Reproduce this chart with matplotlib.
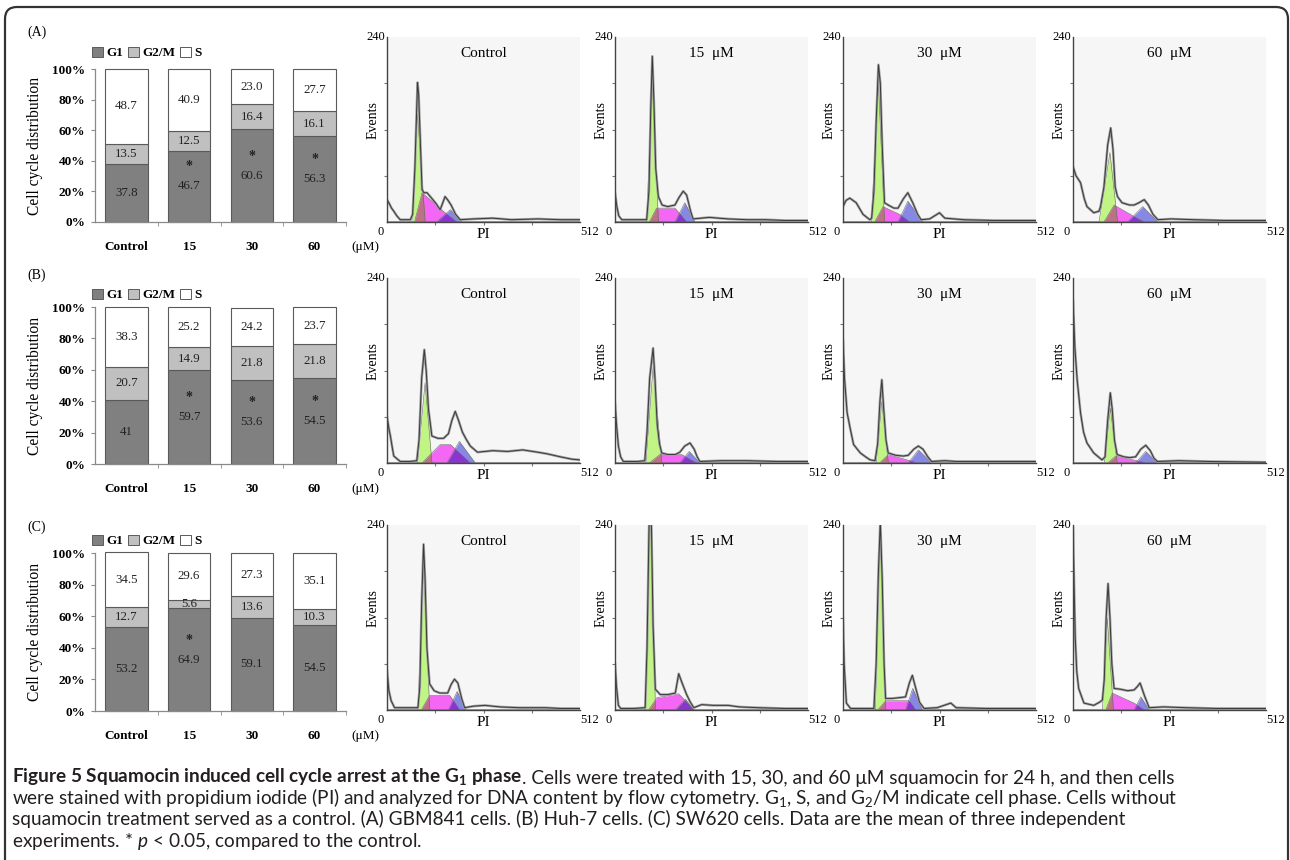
import numpy as np
import matplotlib
matplotlib.use("Agg")
import matplotlib.pyplot as plt
from matplotlib.patches import Patch, FancyBboxPatch
from matplotlib.transforms import IdentityTransform

plt.rcParams['font.family'] = ['Liberation Serif', 'DejaVu Serif']
plt.rcParams['mathtext.fontset'] = 'custom'
plt.rcParams['mathtext.rm'] = 'Lato'
plt.rcParams['mathtext.it'] = 'Lato:italic'
plt.rcParams['mathtext.bf'] = 'Lato:bold'

W, H = 1290, 860

# ---- bar chart data (% of cells) ----
doses = ["Control", "15", "30", "60"]
g1_A = [37.8, 46.7, 60.6, 56.3]
g2m_A = [13.5, 12.5, 16.4, 16.1]
s_A = [48.7, 40.9, 23.0, 27.7]
sig_A = [False, True, True, True]

g1_B = [41, 59.7, 53.6, 54.5]
g2m_B = [20.7, 14.9, 21.8, 21.8]
s_B = [38.3, 25.2, 24.2, 23.7]
sig_B = [False, True, True, True]

g1_C = [53.2, 64.9, 59.1, 54.5]
g2m_C = [12.7, 5.6, 13.6, 10.3]
s_C = [34.5, 29.6, 27.3, 35.1]
sig_C = [False, True, False, False]

# ---- flow cytometry histograms: (PI channel, events) ----
hist_titles = ["Control", "15  \u03bcM", "30  \u03bcM", "60  \u03bcM"]

trace_A = [
    [(0,29),(6,24),(12,18),(18,14),(26,8),(35,3),(50,3),(62,3),(68,10),(74,70),(79,150),(81,181),(84,165),(88,110),(93,42),(98,38),(106,38),(120,30),(130,24),(141,16),(148,25),(154,33),(162,28),(170,22),(182,10),(194,3),(230,4),(280,5),(330,3),(400,4),(460,3),(512,3)],
    [(0,38),(5,20),(10,8),(18,3),(50,3),(84,3),(90,40),(95,150),(99,215),(103,160),(108,70),(115,33),(125,22),(140,20),(159,22),(170,32),(181,40),(190,35),(200,15),(207,4),(250,6),(300,4),(350,3),(400,3),(450,2),(512,2)],
    [(0,20),(8,28),(18,31),(35,25),(53,10),(71,3),(76,5),(82,40),(88,130),(94,204),(99,180),(104,100),(110,25),(120,22),(135,18),(146,18),(160,30),(172,38),(185,25),(198,10),(207,3),(230,4),(256,12),(270,5),(320,3),(400,2),(512,2)],
    [(0,72),(8,60),(20,51),(30,30),(37,20),(55,12),(69,14),(73,20),(82,45),(92,100),(100,122),(106,95),(112,45),(118,33),(130,25),(150,22),(162,22),(175,25),(189,29),(200,22),(212,10),(225,3),(260,4),(320,3),(400,2),(512,2)],
]
trace_B = [
    [(0,60),(5,45),(9,35),(14,20),(18,9),(35,2),(60,2),(79,3),(85,30),(92,110),(99,147),(104,120),(110,70),(119,35),(135,32),(150,32),(163,38),(172,55),(181,67),(190,55),(200,40),(211,30),(221,22),(240,14),(280,16),(320,15),(360,17),(400,14),(424,12),(460,8),(490,5),(512,4)],
    [(0,78),(4,50),(9,22),(15,8),(22,2),(60,2),(79,3),(85,40),(92,110),(101,149),(106,110),(112,50),(118,25),(124,13),(140,11),(160,11),(172,14),(185,22),(199,26),(210,18),(218,8),(225,2),(280,3),(350,3),(430,2),(512,2)],
    [(0,160),(4,110),(11,65),(19,45),(28,24),(46,13),(60,8),(72,4),(85,3),(92,25),(98,80),(103,108),(108,70),(114,30),(120,13),(140,10),(160,9),(173,10),(188,18),(200,22),(212,18),(225,8),(235,2),(270,3),(300,2),(380,2),(512,2)],
    [(0,211),(5,150),(11,108),(20,65),(28,40),(37,26),(55,13),(77,4),(85,8),(92,55),(99,91),(104,70),(110,30),(117,11),(135,8),(150,7),(166,8),(180,18),(193,23),(205,16),(215,6),(224,2),(280,3),(360,2),(512,1)],
]
trace_C = [
    [(0,51),(5,25),(11,12),(20,3),(50,3),(82,3),(87,30),(92,140),(97,215),(101,170),(106,80),(113,34),(125,25),(140,22),(161,22),(170,33),(179,40),(188,35),(198,15),(206,3),(230,5),(260,6),(300,4),(350,3),(420,3),(460,2),(512,2)],
    [(0,60),(4,30),(9,6),(15,2),(50,2),(80,3),(85,80),(90,230),(93.5,300),(97,230),(101,110),(107,27),(120,20),(140,20),(160,22),(169,47),(178,35),(190,20),(200,10),(209,3),(230,7),(260,6),(300,6),(330,4),(380,3),(450,2),(512,2)],
    [(0,119),(3,60),(9,9),(20,2),(50,2),(82,2),(88,60),(94,180),(99,245),(104,170),(109,60),(113,15),(130,15),(150,16),(166,17),(176,35),(184,45),(192,30),(203,10),(215,2),(250,3),(286,9),(300,3),(380,2),(512,2)],
    [(0,236),(3,160),(6,93),(10,50),(15,28),(29,9),(55,6),(70,10),(78,13),(83,40),(88,120),(93,164),(98,120),(103,60),(109,28),(125,27),(145,25),(162,26),(170,30),(178,35),(190,18),(202,3),(240,4),(300,3),(380,2),(512,2)],
]

# fitted components: G1 / G2 = (start, peak PI, peak events, end); S = (start, x1, y1, x2, y2, end)
fit_g1_A = [(66,81,140,101), (84,99,189,115), (75,94,180,110), (69,98,90,118)]
fit_s_A = [(73,93,38,154,12,185), (91,110,18,159,18,190), (84,106,20,150,10,177), (82,109,22,162,7,189)]
fit_g2_A = [(132,168,16,199), (159,185,25,212), (146,172,27,212), (145,185,20,225)]

fit_g1_B = [(81,101,104,119), (82,101,125,124), (88,103,80,120), (83,99,71,117)]
fit_s_B = [(93,141,24,168,24,221), (91,119,11,177,11,216), (97,120,11,178,3,195), (92,113,9,170,3,193)]
fit_g2_B = [(159,192,28,234), (172,197,15,225), (173,200,17,235), (166,193,15,224)]

fit_g1_C = [(82,97,190,113), (80,93.5,300,107), (86,99,245,113), (78,91,119,107)]
fit_s_C = [(91,113,19,166,19,193), (89,111,16,169,21,209), (92,113,12,175,12,193), (87,104,22,162,9,189)]
fit_g2_C = [(163,186,24,210), (160,187,14,209), (166,185,28,210), (162,180,17,202)]

fig = plt.figure(figsize=(W / 100, H / 100), dpi=100)


def px_axes(left, top, right, bottom, **kw):
    return fig.add_axes([left / W, 1 - bottom / H, (right - left) / W, (bottom - top) / H], **kw)


def draw_bars(top, bottom, g1, g2m, s, sig, letter, letter_y, legend_y):
    ax = px_axes(95, top, 346, bottom)
    x = np.arange(len(doses))
    g1 = np.array(g1, dtype=float)
    g2m = np.array(g2m, dtype=float)
    s = np.array(s, dtype=float)
    kw = dict(width=0.68, edgecolor='#5a5a5a', linewidth=0.8, clip_on=False)
    ax.bar(x, g1, color='#808080', **kw)
    ax.bar(x, g2m, bottom=g1, color='#c0c0c0', **kw)
    ax.bar(x, s, bottom=g1 + g2m, color='white', **kw)
    for i in range(len(doses)):
        for val, base in ((g1[i], 0), (g2m[i], g1[i]), (s[i], g1[i] + g2m[i])):
            lab = str(int(val)) if val == int(val) and 40 < val < 42 else f"{val:.1f}"
            ax.text(i, base + val / 2, lab, ha='center', va='center', fontsize=9.3, color='#222')
        if sig[i]:
            ax.annotate("*", (i, g1[i] / 2), xytext=(0, 14), textcoords='offset points',
                        ha='center', va='center', fontsize=10, fontweight='bold', color='#222')
    ax.set_xlim(-0.5, 3.5)
    ax.set_ylim(0, 100)
    for sp in ('top', 'right'):
        ax.spines[sp].set_visible(False)
    for sp in ('left', 'bottom'):
        ax.spines[sp].set_color('#8a8a8a')
        ax.spines[sp].set_linewidth(0.9)
    ax.set_yticks(range(0, 101, 20))
    ax.set_yticklabels([f"{v}%" for v in range(0, 101, 20)], fontsize=9.5, fontweight='bold')
    ax.tick_params(axis='y', length=3, color='#8a8a8a', pad=4)
    ax.set_xticks(x)
    ax.set_xticklabels(doses, fontsize=9.5, fontweight='bold')
    ax.tick_params(axis='x', which='major', length=0, pad=14)
    ax.set_xticks([0.5, 1.5, 2.5, 3.5], minor=True)
    ax.tick_params(axis='x', which='minor', length=3, color='#8a8a8a')
    fig.text(35 / W, 1 - (top + bottom) / 2 / H, "Cell cycle distribution", rotation=90,
             ha='center', va='center', fontsize=11.2)
    fig.text(351 / W, 1 - (bottom + 25) / H, "(\u03bcM)", ha='left', va='center', fontsize=9.5)
    fig.text(27 / W, 1 - letter_y / H, letter, ha='left', va='center', fontsize=10)
    handles = [Patch(facecolor=c, edgecolor='#5a5a5a', linewidth=0.7) for c in ('#808080', '#c0c0c0', 'white')]
    ax.legend(handles, ["G1", "G2/M", "S"], loc='center left', bbox_to_anchor=(92 / W, 1 - legend_y / H),
              bbox_transform=fig.transFigure, ncol=3, frameon=False, borderpad=0, borderaxespad=0,
              handlelength=0.85, handleheight=0.85, handletextpad=0.25, columnspacing=0.35,
              prop={'weight': 'bold', 'size': 9.5})


def draw_hist(left, top, trace, g1, s, g2, title):
    ax = px_axes(left, top, left + 193, top + 185, facecolor='#f6f6f6')
    grid = np.linspace(0, 512, 2049)
    g1y = np.interp(grid, [g1[0], g1[1], g1[3]], [0, g1[2], 0], left=0, right=0)
    sy = np.interp(grid, [s[0], s[1], s[3], s[5]], [0, s[2], s[4], 0], left=0, right=0)
    g2y = np.interp(grid, [g2[0], g2[1], g2[3]], [0, g2[2], 0], left=0, right=0)
    ax.fill_between(grid, g1y, color='#c0f586', lw=0)
    ax.fill_between(grid, sy, color='#f466f4', lw=0)
    ax.fill_between(grid, np.minimum(g1y, sy), color='#bd7185', lw=0)
    ax.fill_between(grid, g2y, color='#8787e4', lw=0)
    ax.fill_between(grid, np.minimum(sy, g2y), color='#8a35cf', lw=0)
    for ys in (g1y, sy, g2y):
        ax.plot(grid, ys, color='#6a6a6a', lw=0.4)
    tx = [p[0] for p in trace]
    ty = [p[1] for p in trace]
    ax.plot(tx, ty, color='#a0a0a0', lw=1.8)
    ax.plot(tx, ty, color='#3a3a3a', lw=0.7)
    ax.set_xlim(0, 512)
    ax.set_ylim(0, 240)
    for sp in ('top', 'right'):
        ax.spines[sp].set_visible(False)
    for sp in ('left', 'bottom'):
        ax.spines[sp].set_color('#444444')
        ax.spines[sp].set_linewidth(1.0)
    ax.set_xticks([128, 256, 384])
    ax.set_xticklabels([])
    ax.set_yticks([60, 120, 180])
    ax.set_yticklabels([])
    ax.tick_params(length=2, color='#777777')
    ax.text(0.5, 0.91, title, transform=ax.transAxes, ha='center', va='center', fontsize=11)
    ax.text(0.5, -0.065, "PI", transform=ax.transAxes, ha='center', va='center', fontsize=11)
    ax.text(-0.035, -0.055, "0", transform=ax.transAxes, ha='center', va='center', fontsize=9)
    ax.text(1.05, -0.055, "512", transform=ax.transAxes, ha='center', va='center', fontsize=9)
    ax.text(-0.01, 1.0, "240", transform=ax.transAxes, ha='right', va='center', fontsize=9)
    ax.text(-0.07, 0.55, "Events", transform=ax.transAxes, ha='center', va='center',
            rotation=90, fontsize=10)


rows = [
    (69, 222, g1_A, g2m_A, s_A, sig_A, "(A)", 32, 53, 37, trace_A, fit_g1_A, fit_s_A, fit_g2_A),
    (307, 464, g1_B, g2m_B, s_B, sig_B, "(B)", 275, 295, 278, trace_B, fit_g1_B, fit_s_B, fit_g2_B),
    (553, 711, g1_C, g2m_C, s_C, sig_C, "(C)", 527, 541, 525, trace_C, fit_g1_C, fit_s_C, fit_g2_C),
]
hist_lefts = [387, 615, 843, 1073]
for top, bottom, g1, g2m, s, sig, letter, ly, legy, htop, traces, fg1, fs, fg2 in rows:
    draw_bars(top, bottom, g1, g2m, s, sig, letter, ly, legy)
    for k in range(4):
        draw_hist(hist_lefts[k], htop, traces[k], fg1[k], fs[k], fg2[k], hist_titles[k])

# frame around the figure
frame = FancyBboxPatch((5, -40), 1283, 893, boxstyle="round,pad=0,rounding_size=12",
                       transform=IdentityTransform(), facecolor='none', edgecolor='#333333',
                       linewidth=1.6, clip_on=False)
fig.patches.append(frame)

# caption
cap = fig.add_axes([0, 0, 1, 1], facecolor='none')
cap.axis('off')
cfont = dict(family=['Lato', 'DejaVu Sans'], fontsize=13.7, color='#231f20')
t1 = cap.text(12 / W, 1 - 782 / H, "Figure 5 Squamocin induced cell cycle arrest at the G$_\\mathbf{1}$ phase",
              ha='left', va='baseline', fontweight='bold', **cfont)
cap.annotate(". Cells were treated with 15, 30, and 60 \u03bcM squamocin for 24 h, and then cells",
             xy=(1, 0), xycoords=t1, ha='left', va='bottom', **cfont)
cap.text(12 / W, 1 - 804 / H, "were stained with propidium iodide (PI) and analyzed for DNA content by flow cytometry. "
         "G$_1$, S, and G$_2$/M indicate cell phase. Cells without", ha='left', va='baseline', **cfont)
cap.text(12 / W, 1 - 825.5 / H, "squamocin treatment served as a control. (A) GBM841 cells. (B) Huh-7 cells. "
         "(C) SW620 cells. Data are the mean of three independent", ha='left', va='baseline', **cfont)
cap.text(12 / W, 1 - 847 / H, "experiments. * $\\it{p}$ < 0.05, compared to the control.", ha='left', va='baseline', **cfont)

fig.savefig("out.png", dpi=100)
